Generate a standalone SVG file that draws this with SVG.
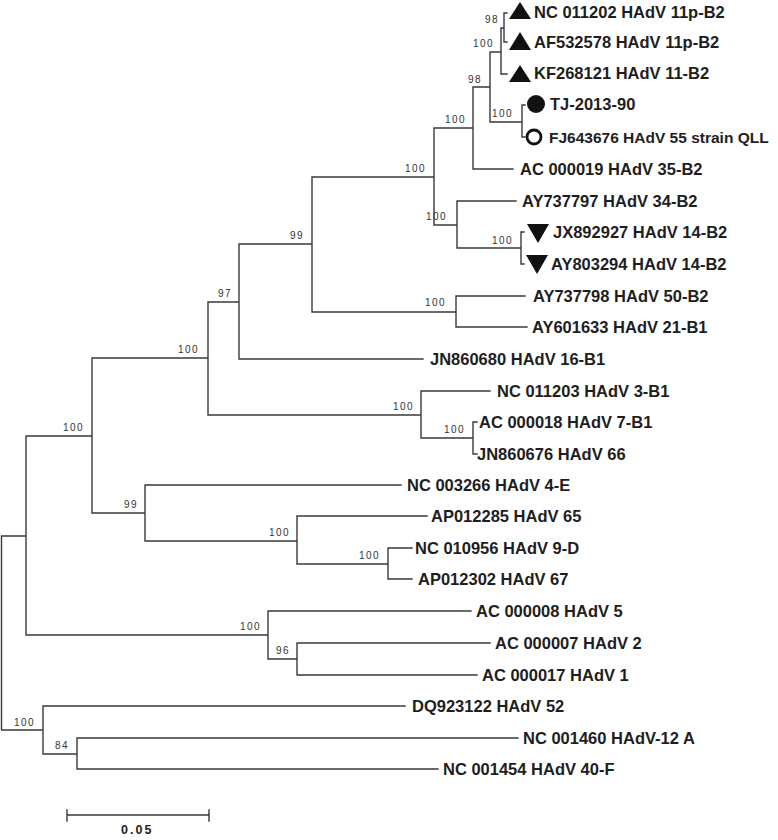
<svg xmlns="http://www.w3.org/2000/svg" width="778" height="840" viewBox="0 0 778 840">
<style>
.br{fill:none;stroke:#3a3a3a;stroke-width:1.4;stroke-linecap:square}
.lf{font-family:"Liberation Sans",Arial,sans-serif;font-weight:bold;font-size:16.5px;fill:#1e1e1e}
.bs{font-family:"Liberation Sans",Arial,sans-serif;font-size:10px;letter-spacing:1.5px;fill:#333}
.sc{font-family:"Liberation Sans",Arial,sans-serif;font-weight:bold;font-size:12.5px;letter-spacing:2px;fill:#222}
.mk{fill:#111}
</style>
<rect width="778" height="840" fill="#fff"/>
<g id="connectors">
<path class="br" d="M1.5,536V730M1.5,536H26M1.5,730H43
M26,436V635M26,436H92M26,635H268
M92,358V513M92,358H208M92,513H145
M208,302V415M208,302H239M208,415H421
M239,244V359M239,244H312M239,359H423
M312,177V312M312,177H434M312,312H456
M434,128V225M434,128H473M434,225H457
M473,87V169M473,87H490M473,169H513
M490,52V122M490,52H501M490,122H522
M501,28V74M501,28H504M501,74H507
M504,13V42M504,13H507M504,42H507
M522,105V137M522,105H525M522,137H525
M457,201V248M457,201H516M457,248H521
M521,232V264M521,232H524M521,264H524
M456,296V327M456,296H525M456,327H527
M421,391V438M421,391H490M421,438H473
M473,422V454M473,422H477M473,454H477
M145,485V541M145,485H401M145,541H297
M297,516V564M297,516H427M297,564H388
M388,548V579M388,548H412M388,579H412
M268,611V659M268,611H471M268,659H297
M297,643V675M297,643H490M297,675H477
M43,706V754M43,706H405M43,754H77
M77,738V769M77,738H518M77,769H438"/>
</g>
<g id="support">
<text class="bs" x="485" y="23">98</text>
<text class="bs" x="473" y="47">100</text>
<text class="bs" x="468" y="83">98</text>
<text class="bs" x="492" y="117">100</text>
<text class="bs" x="445" y="123">100</text>
<text class="bs" x="405" y="172">100</text>
<text class="bs" x="426" y="220">100</text>
<text class="bs" x="492" y="244">100</text>
<text class="bs" x="425" y="306">100</text>
<text class="bs" x="290" y="239">99</text>
<text class="bs" x="218" y="297">97</text>
<text class="bs" x="178" y="353">100</text>
<text class="bs" x="393" y="410">100</text>
<text class="bs" x="444" y="433">100</text>
<text class="bs" x="63" y="431">100</text>
<text class="bs" x="124" y="508">99</text>
<text class="bs" x="269" y="536">100</text>
<text class="bs" x="359" y="559">100</text>
<text class="bs" x="240" y="630">100</text>
<text class="bs" x="276" y="654">96</text>
<text class="bs" x="14" y="726">100</text>
<text class="bs" x="55" y="749">84</text>
</g>
<g id="n1"><polygon class="mk" points="520,2 509,19 531,19"/><text class="lf" x="534" y="18">NC 011202 HAdV 11p-B2</text></g>
<g id="n2"><polygon class="mk" points="520,32 509,50 531,50"/><text class="lf" x="534" y="48">AF532578 HAdV 11p-B2</text></g>
<g id="n3"><polygon class="mk" points="520,65 509,82 531,82"/><text class="lf" x="534" y="79">KF268121 HAdV 11-B2</text></g>
<g id="n4"><circle class="mk" cx="536" cy="104" r="9"/><text class="lf" x="550" y="110">TJ-2013-90</text></g>
<g id="n5"><circle cx="534" cy="137" r="7" fill="none" stroke="#111" stroke-width="2.8"/><text class="lf" x="549" y="143" style="font-size:15.5px">FJ643676 HAdV 55 strain QLL</text></g>
<g id="n6"><text class="lf" x="520" y="175">AC 000019 HAdV 35-B2</text></g>
<g id="n7"><text class="lf" x="522" y="207">AY737797 HAdV 34-B2</text></g>
<g id="n8"><polygon class="mk" points="527,224 549,224 538,243"/><text class="lf" x="553" y="238">JX892927 HAdV 14-B2</text></g>
<g id="n9"><polygon class="mk" points="526,255 548,255 537,274"/><text class="lf" x="551" y="270">AY803294 HAdV 14-B2</text></g>
<g id="n10"><text class="lf" x="533" y="302">AY737798 HAdV 50-B2</text></g>
<g id="n11"><text class="lf" x="532" y="333">AY601633 HAdV 21-B1</text></g>
<g id="n12"><text class="lf" x="430" y="365">JN860680 HAdV 16-B1</text></g>
<g id="n13"><text class="lf" x="497" y="397">NC 011203 HAdV 3-B1</text></g>
<g id="n14"><text class="lf" x="479" y="428">AC 000018 HAdV 7-B1</text></g>
<g id="n15"><text class="lf" x="477" y="460">JN860676 HAdV 66</text></g>
<g id="n16"><text class="lf" x="407" y="491">NC 003266 HAdV 4-E</text></g>
<g id="n17"><text class="lf" x="431" y="522">AP012285 HAdV 65</text></g>
<g id="n18"><text class="lf" x="415" y="554">NC 010956 HAdV 9-D</text></g>
<g id="n19"><text class="lf" x="418" y="585">AP012302 HAdV 67</text></g>
<g id="n20"><text class="lf" x="476" y="617">AC 000008 HAdV 5</text></g>
<g id="n21"><text class="lf" x="495" y="649">AC 000007 HAdV 2</text></g>
<g id="n22"><text class="lf" x="482" y="681">AC 000017 HAdV 1</text></g>
<g id="n23"><text class="lf" x="412" y="712">DQ923122 HAdV 52</text></g>
<g id="n24"><text class="lf" x="523" y="744">NC 001460 HAdV-12 A</text></g>
<g id="n25"><text class="lf" x="443" y="775">NC 001454 HAdV 40-F</text></g>
<g id="scale">
<path class="br" d="M67,815H209M67,810V821M209,810V821"/>
<text class="sc" x="121" y="834">0.05</text>
</g>
</svg>
